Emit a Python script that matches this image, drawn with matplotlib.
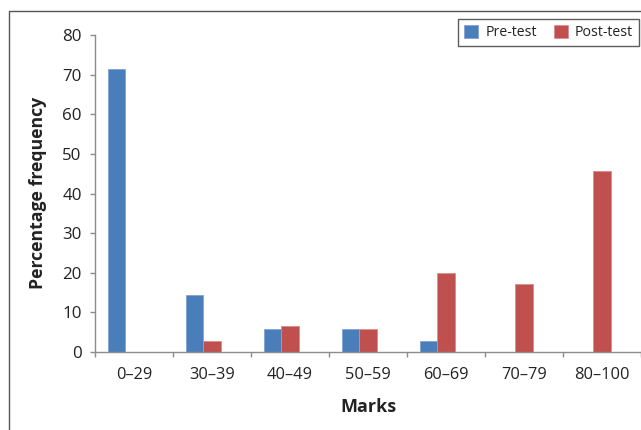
import matplotlib
matplotlib.use("Agg")
import matplotlib.pyplot as plt
import numpy as np
from matplotlib.patches import Rectangle

categories = ["0\u201329", "30\u201339", "40\u201349", "50\u201359", "60\u201369", "70\u201379", "80\u2013100"]
pre_test = [71.4, 14.3, 5.7, 5.7, 2.9, 0.0, 0.0]
post_test = [0.0, 2.9, 6.6, 5.7, 20.0, 17.1, 45.7]
y_ticks = [0, 10, 20, 30, 40, 50, 60, 70, 80]

BLUE = "#4A7EBB"
RED = "#C0504D"
AXIS_GRAY = "#8C8C8C"
TEXT = "#222222"

plt.rcParams["font.family"] = ["Open Sans", "DejaVu Sans"]

W, H = 641, 430
fig = plt.figure(figsize=(W / 100, H / 100), dpi=100)
fig.patch.set_facecolor("white")

# outer chart frame
fig.patches.append(Rectangle((9 / W, 0 - 0.05), 1.1, (H - 11) / H + 0.05,
                             transform=fig.transFigure, fill=False,
                             edgecolor="#555555", linewidth=1.0))

ax = fig.add_axes([95 / W, (H - 352) / H, (641 - 95) / W, (352 - 35) / H])

x = np.arange(len(categories))
w = 1 / 4.5
ax.bar(x - w, pre_test, width=w, color=BLUE, edgecolor="#7FA3D3", linewidth=0.6, label="Pre-test")
ax.bar(x, post_test, width=w, color=RED, edgecolor="#D98C8A", linewidth=0.6, label="Post-test")

ax.set_xlim(-0.5, len(categories) - 0.5)
ax.set_ylim(0, 80)
ax.set_yticks(y_ticks)
ax.set_yticklabels([str(v) for v in y_ticks])

# category labels centred, ticks at category boundaries
ax.set_xticks(x)
ax.set_xticklabels(categories)
ax.set_xticks(np.arange(len(categories) + 1) - 0.5, minor=True)
ax.tick_params(axis="x", which="major", length=0, pad=11, labelsize=11.8, colors=TEXT)
ax.tick_params(axis="x", which="minor", length=3.6, width=1, color=AXIS_GRAY, direction="out")
ax.tick_params(axis="y", length=3.6, width=1, color=AXIS_GRAY, direction="out", pad=6,
               labelsize=12.2, labelcolor=TEXT)

for side in ("top", "right"):
    ax.spines[side].set_visible(False)
for side in ("left", "bottom"):
    ax.spines[side].set_color(AXIS_GRAY)
    ax.spines[side].set_linewidth(1)

fig.text(38 / W, 1 - 193 / H, "Percentage frequency", rotation=90, ha="center", va="center",
         fontsize=12.7, fontweight="bold", color=TEXT)
fig.text(368 / W, 1 - 407 / H, "Marks", ha="center", va="center",
         fontsize=13, fontweight="bold", color=TEXT)

leg = fig.legend(loc="upper left", bbox_to_anchor=(458 / W, 1 - 19 / H), ncol=2,
                 frameon=True, fancybox=False, fontsize=10.2, handlelength=1.0,
                 handleheight=1.0, handletextpad=0.5, columnspacing=1.2,
                 borderpad=0.42, borderaxespad=0)
leg.get_frame().set_edgecolor("#333333")
leg.get_frame().set_linewidth(1.0)
for t in leg.get_texts():
    t.set_color(TEXT)

fig.savefig("out.png", dpi=100, facecolor="white")
